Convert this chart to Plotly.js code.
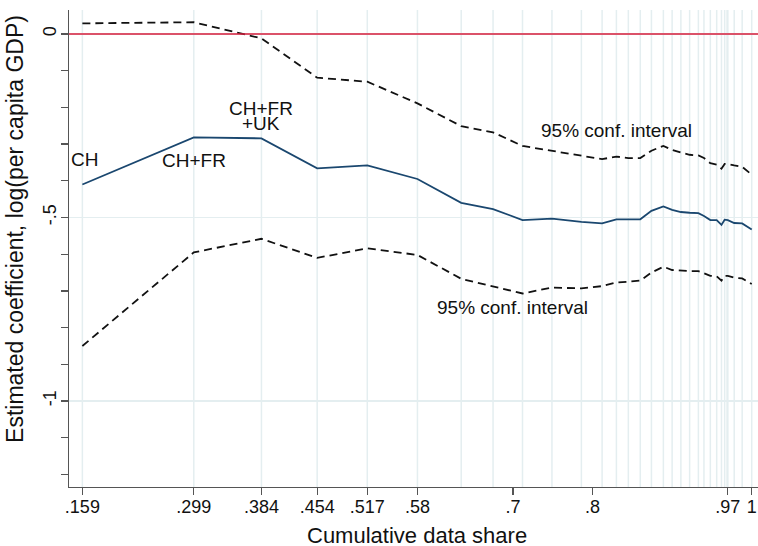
<!DOCTYPE html>
<html>
<head>
<meta charset="utf-8">
<script src="https://cdn.plot.ly/plotly-3.0.1.min.js"></script>
<style>html,body{margin:0;padding:0;background:#fff;}#chart{width:758px;height:546px;}</style>
</head>
<body>
<div id="chart"></div>
<script>
// Cumulative data share (x) for each estimate
const dataShare = [0.159,0.299,0.384,0.454,0.517,0.58,0.635,0.675,0.712,0.749,0.786,0.812,0.830,0.845,0.860,0.874,0.889,0.900,0.911,0.922,0.933,0.940,0.948,0.956,0.962,0.966,0.969,0.970,0.978,0.988,1.0];
// Estimated coefficient
const coef = [-0.410,-0.2815,-0.2843,-0.366,-0.358,-0.395,-0.460,-0.477,-0.507,-0.503,-0.512,-0.516,-0.505,-0.505,-0.505,-0.482,-0.470,-0.479,-0.485,-0.487,-0.488,-0.496,-0.507,-0.507,-0.520,-0.506,-0.507,-0.507,-0.515,-0.516,-0.533];
// Upper 95% CI
const ciUpper = [0.029,0.032,-0.012,-0.119,-0.130,-0.189,-0.251,-0.268,-0.305,-0.318,-0.332,-0.341,-0.334,-0.338,-0.338,-0.318,-0.305,-0.316,-0.323,-0.329,-0.331,-0.338,-0.352,-0.356,-0.367,-0.354,-0.354,-0.354,-0.358,-0.362,-0.383];
// Lower 95% CI
const ciLower = [-0.850,-0.595,-0.558,-0.610,-0.584,-0.602,-0.667,-0.687,-0.707,-0.691,-0.693,-0.687,-0.677,-0.675,-0.672,-0.650,-0.634,-0.643,-0.645,-0.646,-0.646,-0.652,-0.659,-0.660,-0.672,-0.659,-0.659,-0.659,-0.664,-0.666,-0.681];

// Axis ticks
const xTickVals = [0.159,0.299,0.384,0.454,0.517,0.58,0.7,0.8,0.97,1];
const xTickText = ['.159','.299','.384','.454','.517','.58','.7','.8','.97','1'];
const yTickVals = [0,-0.5,-1];
const yTickText = ['0','-.5','-1'];

// In-plot labels
const labelText = ['CH','CH+FR','CH+FR','+UK','95% conf. interval','95% conf. interval'];
const labelX = [0.162,0.299,0.384,0.384,0.830,0.700];
const labelY = [-0.343,-0.345,-0.204,-0.244,-0.264,-0.744];

const xTitle = 'Cumulative data share';
const yTitle = 'Estimated coefficient, log(per capita GDP)';

const FONT = '"Liberation Sans", Arial, sans-serif';
const TXT = '#111';
const GRID = '#e4eef0';
const AX = '#555';

const traces = [
  {x: dataShare, y: ciUpper, mode:'lines', line:{color:'#111', width:1.8, dash:'8px,5px'}, hoverinfo:'skip'},
  {x: dataShare, y: ciLower, mode:'lines', line:{color:'#111', width:1.8, dash:'8px,5px'}, hoverinfo:'skip'},
  {x: dataShare, y: coef, mode:'lines', line:{color:'#1a476f', width:1.8}, hoverinfo:'skip'}
];

const shapes = dataShare.map(v => ({type:'line', xref:'x', yref:'paper', x0:v, x1:v, y0:0, y1:1, layer:'below', line:{color:GRID, width:1.5}}));
shapes.push({type:'line', xref:'paper', yref:'y', x0:0, x1:1, y0:0, y1:0, layer:'above', line:{color:'#d81e3c', width:1.6}});

const annotations = labelText.map((t,i) => ({
  text:t, x:labelX[i], y:labelY[i], xref:'x', yref:'y', showarrow:false,
  xanchor:'center', yanchor:'middle', font:{family:FONT, size:19, color:TXT}
}));
annotations.push({text:yTitle, xref:'paper', yref:'paper', x:0, y:0.541, xshift:-54, textangle:-90,
  showarrow:false, xanchor:'center', yanchor:'middle', font:{family:FONT, size:23, color:TXT}});
annotations.push({text:xTitle, xref:'paper', yref:'paper', x:0.5053, y:0, yshift:-48,
  showarrow:false, xanchor:'center', yanchor:'middle', font:{family:FONT, size:22, color:TXT}});

const layout = {
  width:758, height:546,
  margin:{l:69, r:0, t:10, b:59},
  paper_bgcolor:'#fff', plot_bgcolor:'#fff',
  showlegend:false,
  font:{family:FONT, color:TXT},
  xaxis:{
    range:[0.1422,1.0079], tickmode:'array', tickvals:xTickVals, ticktext:xTickText,
    ticks:'outside', ticklen:7, tickwidth:1.3, tickcolor:AX, ticklabelstandoff:-4,
    showgrid:false, zeroline:false, showline:true, linecolor:AX, linewidth:1.3,
    tickfont:{family:FONT, size:18, color:TXT}
  },
  yaxis:{
    range:[-1.2343,0.0654], tickmode:'array', tickvals:yTickVals, ticktext:yTickText,
    tickangle:-90, ticks:'outside', ticklen:7, tickwidth:1.3, tickcolor:AX, ticklabelstandoff:-2,
    minor:{tickmode:'linear', tick0:0, dtick:0.1, ticks:'outside', ticklen:7, tickwidth:1.3, tickcolor:AX, showgrid:false},
    showgrid:true, gridcolor:GRID, gridwidth:1.5, zeroline:false,
    showline:true, linecolor:AX, linewidth:1.3,
    tickfont:{family:FONT, size:18, color:TXT}
  },
  shapes:shapes,
  annotations:annotations
};

Plotly.newPlot('chart', traces, layout, {staticPlot:true, displayModeBar:false});
</script>
</body>
</html>
